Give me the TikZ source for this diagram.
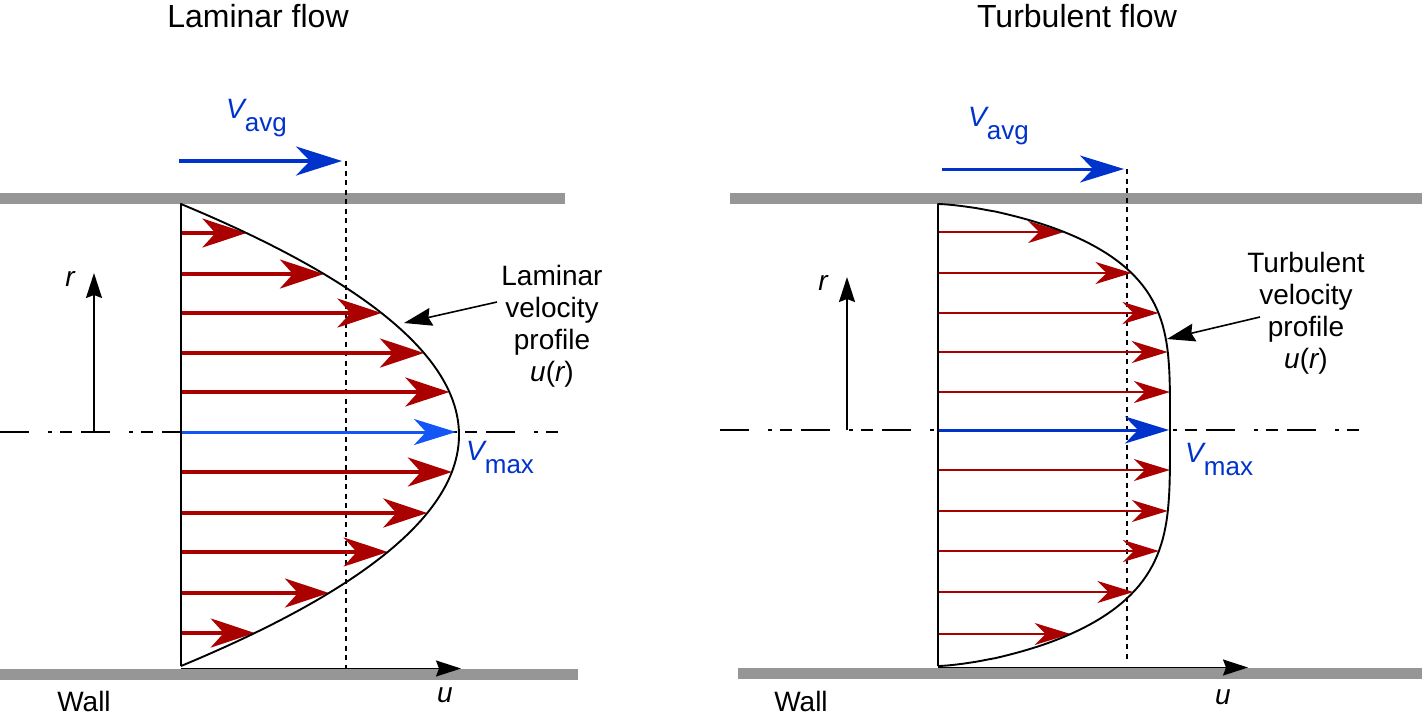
\documentclass[tikz,border=0pt]{standalone}
\usepackage{fontspec}
\setmainfont{Liberation Sans}
\usetikzlibrary{arrows.meta}
\definecolor{wallgray}{RGB}{150,150,150}
\definecolor{redarr}{RGB}{170,0,0}
\definecolor{bluelab}{RGB}{0,51,204}
\definecolor{bluectr}{RGB}{20,85,245}
\begin{document}
\begin{tikzpicture}[x=1pt,y=-1pt,
  wall/.style={wallgray, line width=11pt},
  centerline/.style={line width=1.3pt, dash pattern=on 29pt off 19pt on 4pt off 8pt on 12pt off 9pt},
  avgline/.style={line width=1.8pt, dash pattern=on 5pt off 4.5pt},
  profile/.style={line width=1.9pt, line join=round},
  redbig/.style={redarr, line width=3.8pt, -{Stealth[length=44pt,width=29pt,inset=13pt]}},
  redsmall/.style={redarr, line width=2pt, -{Stealth[length=36pt,width=22pt,inset=11pt]}},
  bluebig/.style={bluelab, line width=3.8pt, -{Stealth[length=46pt,width=29pt,inset=14pt]}},
  bluemid/.style={bluelab, line width=3pt, -{Stealth[length=44pt,width=27pt,inset=13pt]}},
  bluectrl/.style={bluectr, line width=3pt, -{Stealth[length=42pt,width=26pt,inset=12pt]}},
  axisarrow/.style={line width=1.6pt, -{Stealth[length=25pt,width=16pt,inset=3pt]}},
  pointer/.style={line width=1.6pt, -{Stealth[length=28pt,width=18pt,inset=3pt]}},
  title/.style={font=\fontsize{32}{36}\selectfont, inner sep=0pt, anchor=base},
  lab/.style={font=\fontsize{28}{32}\selectfont, inner sep=0pt},
  desc/.style={font=\fontsize{28}{32}\selectfont, inner sep=0pt, align=center, anchor=north},
  vlab/.style={bluelab, font=\fontsize{28}{32}\selectfont, inner sep=0pt, anchor=base west},
]
\useasboundingbox (0,0) rectangle (1422,716);

% ---------- walls ----------
\coordinate (LTw1) at (0,198.5);   \coordinate (LTw2) at (565,198.5);
\coordinate (LBw1) at (0,674);     \coordinate (LBw2) at (578,674);
\coordinate (RTw1) at (730,198.5); \coordinate (RTw2) at (1422,198.5);
\coordinate (RBw1) at (738,673.5); \coordinate (RBw2) at (1422,673.5);
\draw[wall] (LTw1) -- (LTw2);
\draw[wall] (LBw1) -- (LBw2);
\draw[wall] (RTw1) -- (RTw2);
\draw[wall] (RBw1) -- (RBw2);

% ---------- centre lines ----------
\coordinate (LC1) at (0,432);   \coordinate (LC2) at (565,432);
\coordinate (RC1) at (720,430); \coordinate (RC2) at (1365,430);
\draw[centerline] (LC1) -- (LC2);
\draw[centerline] (RC1) -- (RC2);

% ---------- V_avg dashed lines and arrows ----------
\coordinate (LA1) at (179,161); \coordinate (LA2) at (342,161);
\coordinate (LD1) at (346,161); \coordinate (LD2) at (346,668);
\draw[avgline] (LD1) -- (LD2);
\draw[bluebig] (LA1) -- (LA2);
\coordinate (RA1) at (942,169); \coordinate (RA2) at (1124,169);
\coordinate (RD1) at (1127,169); \coordinate (RD2) at (1127,662);
\draw[avgline] (RD1) -- (RD2);
\draw[bluemid] (RA1) -- (RA2);

% ---------- laminar arrows ----------
\foreach \yy in {233,274,313,353,392,472,513,552,593,633}{
  \pgfmathsetmacro\xx{181+278*(1-((\yy-435)/231)^2)}
  \coordinate (ls) at (181,\yy);
  \coordinate (le) at (\xx,\yy);
  \draw[redbig] (ls) -- (le);
}
\coordinate (LM1) at (181,432); \coordinate (LM2) at (456,432);
\draw[bluectrl] (LM1) -- (LM2);

% ---------- turbulent arrows ----------
\foreach \yy/\rr in {232/226,273/226,313/226,352/226,392/226,470/236,511/236,551/236,592/236,634/236}{
  \pgfmathsetmacro\ss{abs(\yy-430)/\rr}
  \pgfmathsetmacro\xx{938+232*(max(1-\ss^4,0.00001))^0.685}
  \coordinate (rs) at (938,\yy);
  \coordinate (re) at (\xx,\yy);
  \draw[redsmall] (rs) -- (re);
}
\coordinate (RM1) at (938,430); \coordinate (RM2) at (1169,430);
\draw[bluemid] (RM1) -- (RM2);

% ---------- profiles ----------
\coordinate (Lbot) at (181,666); \coordinate (Ltop) at (181,204);
\draw[profile] (Lbot) -- (Ltop) -- plot[domain=204:666, samples=93, variable=\t] ({181+278*(1-((\t-435)/231)^2)}, {\t});
\coordinate (Rbot) at (938,666); \coordinate (Rtop) at (938,204);
\draw[profile] (Rbot) -- (Rtop)
  -- plot[domain=0:1, samples=61, variable=\t] ({938+232*(max(1-(1-\t*\t)^4,0.00001))^0.685}, {430-226*(1-\t*\t)})
  -- plot[domain=1:0, samples=61, variable=\t] ({938+232*(max(1-(1-\t*\t)^4,0.00001))^0.685}, {430+236*(1-\t*\t)});

% ---------- axes ----------
\coordinate (Lr1) at (94,432);  \coordinate (Lr2) at (94,273);
\coordinate (Lu1) at (181,668.5); \coordinate (Lu2) at (461,668.5);
\draw[axisarrow] (Lr1) -- (Lr2);
\draw[axisarrow] (Lu1) -- (Lu2);
\coordinate (Rr1) at (847,430); \coordinate (Rr2) at (847,277);
\coordinate (Ru1) at (938,667.5); \coordinate (Ru2) at (1248,667.5);
\draw[axisarrow] (Rr1) -- (Rr2);
\draw[axisarrow] (Ru1) -- (Ru2);

% ---------- pointers ----------
\coordinate (Lp1) at (497,302); \coordinate (Lp2) at (404,323);
\draw[pointer] (Lp1) -- (Lp2);
\coordinate (Rp1) at (1260,317); \coordinate (Rp2) at (1167,339);
\draw[pointer] (Rp1) -- (Rp2);

% ---------- texts ----------
\node[title] (t1) at (258,27) {Laminar flow};
\node[title] (t2) at (1077,27) {Turbulent flow};

\node[vlab] (lavg) at (226,118) {\itshape V\upshape\raisebox{-13pt}{\fontsize{26}{28}\selectfont avg}};
\node[vlab] (ravg) at (968,126) {\itshape V\upshape\raisebox{-13pt}{\fontsize{26}{28}\selectfont avg}};
\node[vlab] (lmax) at (466,460) {\itshape V\upshape\raisebox{-13pt}{\fontsize{26}{28}\selectfont max}};
\node[vlab] (rmax) at (1185,462) {\itshape V\upshape\raisebox{-13pt}{\fontsize{26}{28}\selectfont max}};

\node[desc] (ldesc) at (552,265) {Laminar\\velocity\\profile\\\itshape u\upshape(\itshape r\upshape)};
\node[desc] (rdesc) at (1306,252) {Turbulent\\velocity\\profile\\\itshape u\upshape(\itshape r\upshape)};

\node[lab, anchor=base] (lr) at (70,286) {\itshape r};
\node[lab, anchor=base] (rr) at (823,290) {\itshape r};
\node[lab, anchor=base] (lu) at (445,702) {\itshape u};
\node[lab, anchor=base] (ru) at (1223,704) {\itshape u};
\node[lab, anchor=base] (lw) at (84,711) {Wall};
\node[lab, anchor=base] (rw) at (801,711) {Wall};
\end{tikzpicture}
\end{document}
